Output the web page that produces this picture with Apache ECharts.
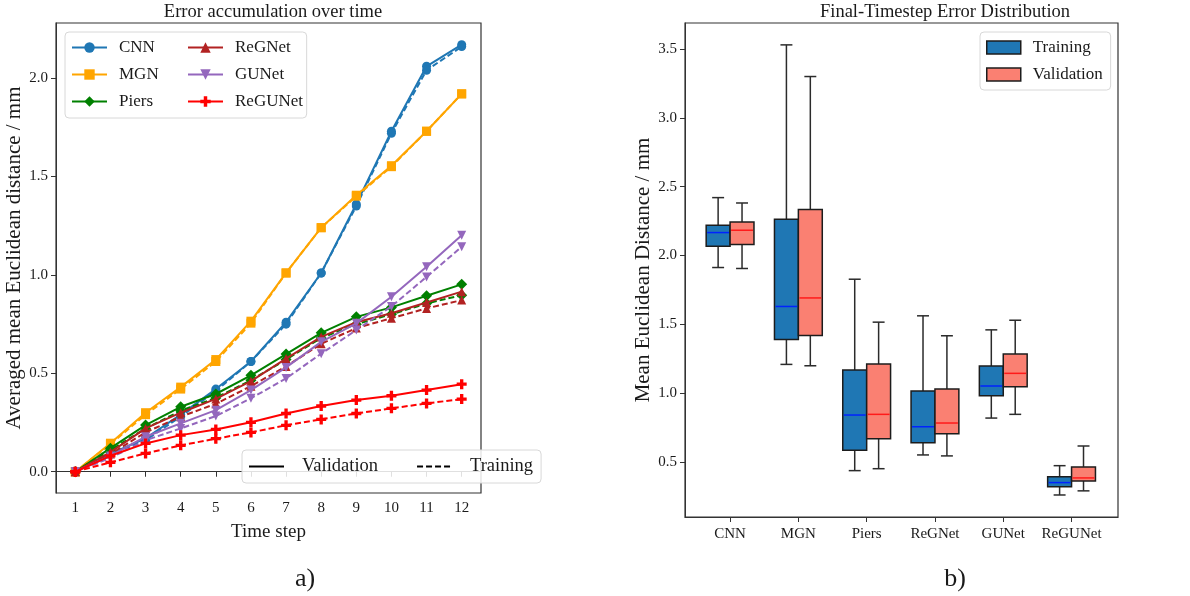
<!DOCTYPE html>
<html><head><meta charset="utf-8">
<script src="https://cdn.jsdelivr.net/npm/echarts@6/dist/echarts.min.js"></script>
<style>html,body{margin:0;padding:0;background:#fff}#c{width:1190px;height:596px}</style>
</head><body><div id="c"></div>
<script>
const timeSteps = [1,2,3,4,5,6,7,8,9,10,11,12];
const modelNames = ['CNN','MGN','Piers','ReGNet','GUNet','ReGUNet'];
const yTicksLeft = [0, 0.5, 1.0, 1.5, 2.0];
const yTicksRight = [0.5, 1.0, 1.5, 2.0, 2.5, 3.0, 3.5];
const boxPositions = [1,2,3,4,5,6];

const cnnVal = [0,0.09,0.17,0.29,0.42,0.56,0.76,1.01,1.36,1.73,2.06,2.17];
const cnnTrain = [0,0.09,0.16,0.28,0.41,0.56,0.75,1.01,1.35,1.72,2.04,2.16];
const mgnVal = [0,0.145,0.30,0.43,0.57,0.765,1.01,1.24,1.405,1.555,1.73,1.92];
const mgnTrain = [0,0.14,0.29,0.42,0.56,0.755,1.01,1.24,1.40,1.55,1.73,1.92];
const piersVal = [0,0.12,0.237,0.33,0.395,0.49,0.598,0.706,0.787,0.835,0.894,0.952];
const piersTrain = [0,0.11,0.22,0.31,0.375,0.465,0.57,0.68,0.75,0.80,0.855,0.897];
const regnetVal = [0,0.10,0.22,0.30,0.37,0.46,0.575,0.685,0.76,0.805,0.86,0.915];
const regnetTrain = [0,0.09,0.20,0.28,0.345,0.435,0.535,0.65,0.73,0.78,0.83,0.872];
const gunetVal = [0,0.08,0.178,0.246,0.313,0.415,0.53,0.66,0.754,0.889,1.041,1.202];
const gunetTrain = [0,0.07,0.16,0.22,0.283,0.373,0.474,0.60,0.72,0.84,0.99,1.143];
const regunetVal = [0,0.081,0.144,0.186,0.215,0.251,0.296,0.334,0.364,0.386,0.415,0.445];
const regunetTrain = [0,0.048,0.093,0.134,0.168,0.20,0.236,0.266,0.296,0.322,0.347,0.369];

// box stats: [min, q1, median, q3, max]
const trainStats = [
  [1.913,2.067,2.167,2.220,2.421],
  [1.209,1.390,1.630,2.263,3.531],
  [0.437,0.585,0.841,1.168,1.828],
  [0.551,0.640,0.756,1.015,1.562],
  [0.819,0.981,1.052,1.197,1.460],
  [0.260,0.319,0.350,0.393,0.473]
];
const valStats = [
  [1.906,2.080,2.184,2.244,2.382],
  [1.199,1.419,1.692,2.334,3.301],
  [0.451,0.669,0.846,1.211,1.516],
  [0.544,0.705,0.783,1.030,1.417],
  [0.846,1.047,1.144,1.284,1.530],
  [0.290,0.362,0.384,0.464,0.616]
];

const FONT = 'Liberation Serif';
const TXT = '#1a1a1a';
const plusPath = 'path://M-1,-3H1V-1H3V1H1V3H-1V1H-3V-1H-1Z';
const downTri = 'path://M0,10L-10,-7L10,-7Z';

function lineSeries(name, vals, color, symbol, size, dashed, z) {
  return {
    name, type: 'line', xAxisIndex: 0, yAxisIndex: 0,
    data: timeSteps.map((t, i) => [t, vals[i]]),
    symbol, symbolSize: size, showSymbol: true,
    lineStyle: { color, width: 2, type: dashed ? [6, 3] : 'solid' },
    itemStyle: { color },
    z, animation: false
  };
}

function boxSeries(name, stats, offset, fill, medColor) {
  return {
    name, type: 'custom', xAxisIndex: 1, yAxisIndex: 1,
    itemStyle: { color: fill },
    data: stats.map((s, i) => [boxPositions[i], s[0], s[1], s[2], s[3], s[4]]),
    encode: { x: 0, y: [1, 2, 3, 4, 5] },
    animation: false,
    renderItem(params, api) {
      const c = api.value(0) + offset;
      const hw = 0.175;
      const mn = api.value(1), q1 = api.value(2), md = api.value(3), q3 = api.value(4), mx = api.value(5);
      const L = api.coord([c - hw, q3]);
      const R = api.coord([c + hw, q1]);
      const top = api.coord([c, mx]);
      const bot = api.coord([c, mn]);
      const capL = api.coord([c - hw / 2, mx])[0];
      const capR = api.coord([c + hw / 2, mx])[0];
      const mdY = api.coord([c, md])[1];
      const st = { stroke: '#2b2b2b', lineWidth: 1.5 };
      return { type: 'group', children: [
        { type: 'line', shape: { x1: top[0], y1: top[1], x2: top[0], y2: L[1] }, style: st },
        { type: 'line', shape: { x1: top[0], y1: R[1], x2: top[0], y2: bot[1] }, style: st },
        { type: 'line', shape: { x1: capL, y1: top[1], x2: capR, y2: top[1] }, style: st },
        { type: 'line', shape: { x1: capL, y1: bot[1], x2: capR, y2: bot[1] }, style: st },
        { type: 'rect', shape: { x: L[0], y: L[1], width: R[0] - L[0], height: R[1] - L[1] },
          style: { fill, stroke: '#1c1c1c', lineWidth: 1.5 } },
        { type: 'line', shape: { x1: L[0] + 1, y1: mdY, x2: R[0] - 1, y2: mdY }, style: { stroke: medColor, lineWidth: 1.5 } }
      ]};
    }
  };
}

const C = { cnn: '#1f77b4', mgn: '#ffa500', piers: '#008000', regnet: '#b22222', gunet: '#9467bd', regunet: '#ff0000' };

const series = [
  lineSeries('CNN', cnnVal, C.cnn, 'circle', 9, false, 2),
  lineSeries('CNN train', cnnTrain, C.cnn, 'circle', 9, true, 2),
  lineSeries('MGN', mgnVal, C.mgn, 'rect', 9, false, 3),
  lineSeries('MGN train', mgnTrain, C.mgn, 'rect', 9, true, 3),
  lineSeries('Piers', piersVal, C.piers, 'diamond', 11, false, 4),
  lineSeries('Piers train', piersTrain, C.piers, 'diamond', 11, true, 4),
  lineSeries('ReGNet', regnetVal, C.regnet, 'triangle', 9, false, 5),
  lineSeries('ReGNet train', regnetTrain, C.regnet, 'triangle', 9, true, 5),
  lineSeries('GUNet', gunetVal, C.gunet, downTri, 9, false, 6),
  lineSeries('GUNet train', gunetTrain, C.gunet, downTri, 9, true, 6),
  lineSeries('ReGUNet', regunetVal, C.regunet, plusPath, 10, false, 7),
  lineSeries('ReGUNet train', regunetTrain, C.regunet, plusPath, 10, true, 7),
  { name: 'Validation', type: 'line', xAxisIndex: 0, yAxisIndex: 0, data: [], symbol: 'none',
    lineStyle: { color: '#000', width: 2, type: 'solid' },
    itemStyle: { color: 'rgba(0,0,0,0)', borderWidth: 0 } },
  { name: 'Training', type: 'line', xAxisIndex: 0, yAxisIndex: 0, data: [], symbol: 'none',
    lineStyle: { color: '#000', width: 2, type: [6, 3] },
    itemStyle: { color: 'rgba(0,0,0,0)', borderWidth: 0 } },
  boxSeries('Training ', trainStats, -0.175, '#1f77b4', '#0022ff'),
  boxSeries('Validation ', valStats, 0.175, '#fa8072', '#ff1a1a')
];

const legendText = { fontFamily: FONT, fontSize: 17, color: TXT, padding: [0, 0, 0, 7] };
const legendBox = { borderColor: '#d8d8d8', borderWidth: 1, borderRadius: 4, backgroundColor: 'rgba(255,255,255,0.85)' };

const axisLbl = { fontFamily: FONT, fontSize: 15, color: TXT };
const nameTxt = { fontFamily: FONT, fontSize: 19, color: TXT };
const yNameTxt = { fontFamily: FONT, fontSize: 21, color: TXT };
const tickStyle = { length: 5, lineStyle: { color: '#333', width: 1 } };

const option = {
  animation: false,
  backgroundColor: '#fff',
  title: [
    { text: 'Error accumulation over time', left: 268, top: -2, textAlign: 'center',
      textStyle: { fontFamily: FONT, fontSize: 18.5, fontWeight: 'normal', color: TXT } },
    { text: 'Final-Timestep Error Distribution', left: 940, top: -2, textAlign: 'center',
      textStyle: { fontFamily: FONT, fontSize: 18.5, fontWeight: 'normal', color: TXT } },
    { text: 'a)', left: 300, top: 561, textAlign: 'center',
      textStyle: { fontFamily: FONT, fontSize: 26, fontWeight: 'normal', color: TXT } },
    { text: 'b)', left: 950, top: 561, textAlign: 'center',
      textStyle: { fontFamily: FONT, fontSize: 26, fontWeight: 'normal', color: TXT } }
  ],
  grid: [
    { left: 56, top: 23, right: 709, bottom: 103, show: true, borderColor: '#333', borderWidth: 1.2, backgroundColor: 'transparent' },
    { left: 685, top: 23, right: 72, bottom: 79, show: true, borderColor: '#333', borderWidth: 1.2, backgroundColor: 'transparent' }
  ],
  xAxis: [
    { type: 'value', gridIndex: 0, min: 0.45, max: 12.55,
      axisLine: { show: true, lineStyle: { color: '#333' } },
      axisTick: Object.assign({ customValues: timeSteps }, tickStyle),
      axisLabel: Object.assign({ customValues: timeSteps, margin: 8 }, axisLbl),
      splitLine: { show: false },
      name: 'Time step', nameLocation: 'middle', nameGap: 30, nameTextStyle: nameTxt },
    { type: 'value', gridIndex: 1, min: 0.34, max: 6.68,
      axisLine: { show: true, lineStyle: { color: '#333' } },
      axisTick: Object.assign({ customValues: boxPositions }, tickStyle),
      axisLabel: Object.assign({ customValues: boxPositions, margin: 10, formatter: v => modelNames[Math.round(v) - 1] }, axisLbl),
      splitLine: { show: false } }
  ],
  yAxis: [
    { type: 'value', gridIndex: 0, min: -0.108, max: 2.28,
      axisLine: { show: true, lineStyle: { color: '#333' } },
      axisTick: Object.assign({ customValues: yTicksLeft }, tickStyle),
      axisLabel: Object.assign({ customValues: yTicksLeft, margin: 8, formatter: v => v.toFixed(1) }, axisLbl),
      splitLine: { show: false },
      name: 'Averaged mean Euclidean distance / mm', nameLocation: 'middle', nameGap: 30, nameTextStyle: yNameTxt },
    { type: 'value', gridIndex: 1, min: 0.10, max: 3.69,
      axisLine: { show: true, lineStyle: { color: '#333' } },
      axisTick: Object.assign({ customValues: yTicksRight }, tickStyle),
      axisLabel: Object.assign({ customValues: yTicksRight, margin: 8, formatter: v => v.toFixed(1) }, axisLbl),
      splitLine: { show: false },
      name: 'Mean Euclidean Distance / mm', nameLocation: 'middle', nameGap: 31, nameTextStyle: yNameTxt }
  ],
  legend: [
    Object.assign({ data: ['CNN', 'MGN', 'Piers'], orient: 'vertical', left: 65, top: 32,
      padding: [7, 148, 8, 6], itemWidth: 35, itemHeight: 13, itemGap: 10,
      textStyle: legendText, selectedMode: false }, legendBox),
    { data: ['ReGNet', 'GUNet', 'ReGUNet'], orient: 'vertical', left: 187, top: 39,
      padding: 0, itemWidth: 35, itemHeight: 13, itemGap: 10,
      textStyle: legendText, selectedMode: false, z: 20 },
    Object.assign({ data: ['Validation', 'Training'], orient: 'horizontal', left: 242, top: 450,
      padding: [7, 8, 7, 6], itemWidth: 35, itemHeight: 14, itemGap: 38,
      textStyle: Object.assign({}, legendText, { fontSize: 18.5, padding: [0, 0, 0, 13] }), selectedMode: false }, legendBox),
    Object.assign({ data: [
        { name: 'Training ', icon: 'rect', itemStyle: { color: '#1f77b4', borderColor: '#1c1c1c', borderWidth: 1.5 } },
        { name: 'Validation ', icon: 'rect', itemStyle: { color: '#fa8072', borderColor: '#1c1c1c', borderWidth: 1.5 } }
      ],
      orient: 'vertical', left: 980, top: 32, formatter: n => n.trim(),
      padding: [7, 8, 7, 6], itemWidth: 34, itemHeight: 13, itemGap: 10,
      textStyle: legendText, selectedMode: false }, legendBox)
  ],
  series
};

const chart = echarts.init(document.getElementById('c'), null, { renderer: 'canvas' });
chart.setOption(option);
</script>
</body></html>
